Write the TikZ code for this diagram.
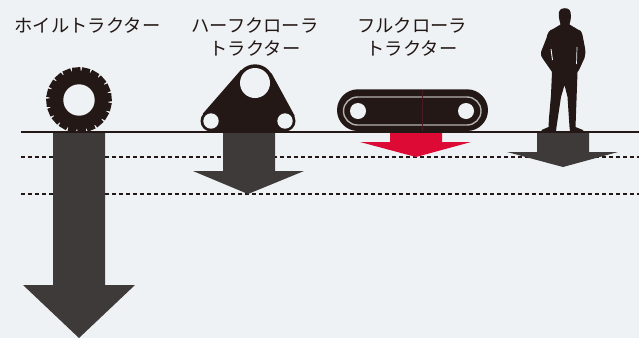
\documentclass[tikz,border=0pt]{standalone}
\usepackage{fontspec}
\setmainfont{Noto Sans CJK JP}
\definecolor{bgblue}{HTML}{EEF2F5}
\definecolor{inkblack}{HTML}{231815}
\definecolor{arrowgray}{HTML}{3E3A39}
\definecolor{arrowred}{HTML}{DC0A35}
\definecolor{beltgray}{HTML}{B4B2B1}
\definecolor{seamred}{HTML}{4A1A22}
\tikzset{
 caption/.style={text=inkblack, font=\fontsize{18.3}{22}\selectfont, inner sep=0pt, align=center},
 bodyfill/.style={fill=inkblack, draw=none},
 holefill/.style={fill=bgblue, draw=none},
 levelline/.style={draw=inkblack, line width=1.1pt, dash pattern=on 4pt off 3pt},
 groundline/.style={draw=inkblack, line width=2pt},
 loadarrow/.style={fill=arrowgray, draw=none},
}
\begin{document}
\begin{tikzpicture}[x=1pt, y=-1pt]
\useasboundingbox[fill=bgblue] (0,0) rectangle (639,338);

 % levels
 \draw[levelline] (21,157) -- (639,157);
 \draw[levelline] (21,194) -- (639,194);

 % arrows
 \fill[loadarrow] (53,132) -- (105,132) -- (105,285) -- (135,285) -- (79,338) -- (23,285) -- (53,285) -- cycle;
 \fill[loadarrow] (223,132) -- (275,132) -- (275,171) -- (304,171) -- (248,194) -- (193,171) -- (223,171) -- cycle;
 \fill[arrowred] (390,132) -- (442,132) -- (442,142) -- (471,142) -- (416,157) -- (360,142) -- (390,142) -- cycle;
 \fill[loadarrow] (537,133) -- (589,133) -- (589,152) -- (618,152) -- (563,167) -- (507,152) -- (537,152) -- cycle;

 % wheel
 \begin{scope}[xshift=79pt, yshift=-100pt]
 \fill[bodyfill] circle[radius=29.5];
 \foreach \a in {0,18,...,342}
  \fill[bodyfill, rotate=\a+5] (-4.2,-28) -- (-4.2,-32.7) -- (4.2,-32.7) -- (4.2,-28) -- cycle;
 \fill[holefill] circle[radius=15.7];
 \end{scope}

 % half crawler
 \fill[bodyfill] (202.8,113.7) -- (240.9,70) -- (271.6,73.4) -- (294.6,115.6) -- (285,131) -- (211,131) -- cycle;
 \fill[bodyfill] (255,83) circle[radius=18.7];
 \fill[bodyfill] (211,121) circle[radius=10.5];
 \fill[bodyfill] (285,121) circle[radius=10.5];
 \fill[holefill] (255,83) circle[radius=15];
 \fill[holefill] (211,121) circle[radius=7.7];
 \fill[holefill] (285,121) circle[radius=7.7];

 % full crawler
 \fill[bodyfill, rounded corners=20.9pt] (337,89.3) rectangle (488,131);
 \draw[beltgray, line width=1.4pt, rounded corners=14pt] (343.5,97) rectangle (481,125);
 \draw[seamred, line width=.4pt] (422,90) -- (422,131);
 \fill[holefill] (358,111) circle[radius=8];
 \fill[holefill] (466,111) circle[radius=8];

 % person
 \fill[bodyfill] (564.8,8.2) .. controls (560,8.2) and (558.6,11) .. (558.8,15)
  .. controls (559,20) and (560,22) .. (560.5,24.5)
  -- (553,29) .. controls (549,30) and (547.5,33) .. (546.5,38)
  -- (541,52) .. controls (540.5,55) and (541.5,57) .. (543,59)
  -- (550,69) -- (552,72) -- (551,95) -- (549,118) -- (548.5,127)
  -- (541.5,130) -- (541.5,131.5) -- (556,131.5) -- (556.5,127) -- (561,97) -- (564.5,85)
  -- (567.5,97) -- (569.5,127) -- (570,131.5) -- (583.5,131.5) -- (583,130)
  -- (575.5,127) -- (576.5,100) -- (577.5,72) -- (579,70) -- (584.5,58)
  .. controls (585.5,55) and (585.5,52) .. (585,48)
  -- (582.5,35) .. controls (581.5,31) and (580,30) .. (577,29)
  -- (569.5,24.5) .. controls (570,22) and (571,20) .. (570.8,15)
  .. controls (570.8,11) and (569.6,8.2) .. (564.8,8.2) -- cycle;
 \draw[bgblue, line width=.9pt] (551,49) -- (552.5,60);
 \draw[bgblue, line width=.7pt] (577,47) -- (576.5,64);

 % ground
 \draw[groundline] (21,132) -- (639,132);

 % captions
 \node[caption] (wheelcap) at (87.5,25) {ホイルトラクター};
 \node[caption] (halfcap) at (255,37) {ハーフクローラ\\[1pt]トラクター};
 \node[caption] (fullcap) at (412,37) {フルクローラ\\[1pt]トラクター};

\end{tikzpicture}
\end{document}
